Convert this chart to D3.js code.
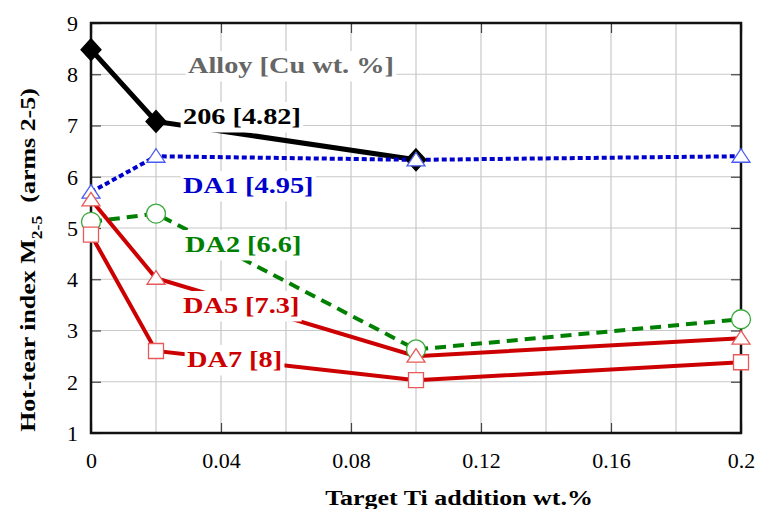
<!DOCTYPE html>
<html>
<head>
<meta charset="utf-8">
<script src="https://cdn.jsdelivr.net/npm/d3@7/dist/d3.min.js"></script>
<style>
html,body{margin:0;padding:0;background:#fff;}
svg{display:block;}
svg text{font-family:"Liberation Serif","Times New Roman",serif;}
</style>
</head>
<body>
<svg id="chart" width="760" height="509"></svg>
<script>
const xValues = [0, 0.02, 0.1, 0.2];
const s206 = [8.48, 7.08, 6.33];
const sDA1 = [5.7, 6.4, 6.33, 6.4];
const sDA2 = [5.12, 5.28, 2.63, 3.22];
const sDA5 = [5.55, 4.02, 2.5, 2.85];
const sDA7 = [4.87, 2.6, 2.03, 2.38];
const xTicks = [0, 0.04, 0.08, 0.12, 0.16, 0.2];
const xTickLabels = ["0", "0.04", "0.08", "0.12", "0.16", "0.2"];
const xGrid = [0, 0.02, 0.04, 0.06, 0.08, 0.1, 0.12, 0.14, 0.16, 0.18, 0.2];
const yTicks = [1, 2, 3, 4, 5, 6, 7, 8, 9];

const series = [
  {name: "206 [4.82]", values: s206, color: "#000000", width: 5, dash: null, marker: "diamond", mstroke: "#000", mfill: "#000", label: [183, 124]},
  {name: "DA1 [4.95]", values: sDA1, color: "#0000cc", width: 4, dash: "5,3", marker: "triangle", mstroke: "#4a5cf0", mfill: "#fff", label: [183, 193]},
  {name: "DA2 [6.6]", values: sDA2, color: "#008000", width: 4, dash: "11,7", marker: "circle", mstroke: "#3aa83a", mfill: "#fff", label: [185, 252]},
  {name: "DA5 [7.3]", values: sDA5, color: "#cc0000", width: 4, dash: null, marker: "triangle", mstroke: "#e85a5a", mfill: "#fff", label: [183, 313]},
  {name: "DA7 [8]", values: sDA7, color: "#cc0000", width: 4, dash: null, marker: "square", mstroke: "#e85a5a", mfill: "#fff", label: [187, 367]}
];

const svg = d3.select("#chart");
const L = 91, R = 741, T = 23, B = 433;
const x = d3.scaleLinear().domain([0, 0.2]).range([L, R]);
const y = d3.scaleLinear().domain([1, 9]).range([B, T]);
const SX = 1.18;

// grid
svg.append("g").selectAll("line").data(xGrid).join("line")
  .attr("x1", d => x(d)).attr("x2", d => x(d)).attr("y1", T).attr("y2", B)
  .attr("stroke", "#c8c8c8").attr("stroke-width", 1.2);
svg.append("g").selectAll("line").data(yTicks).join("line")
  .attr("x1", L).attr("x2", R).attr("y1", d => y(d)).attr("y2", d => y(d))
  .attr("stroke", "#c8c8c8").attr("stroke-width", 1.2);

// axes with inward ticks
const ax = (g, a) => g.call(a).call(s => s.select(".domain").remove());
const yL = svg.append("g").attr("transform", `translate(${L},0)`)
  .call(g => ax(g, d3.axisLeft(y).tickValues(yTicks).tickSize(-10).tickPadding(13).tickFormat(d3.format("d"))));
svg.append("g").attr("transform", `translate(${R},0)`)
  .call(g => ax(g, d3.axisRight(y).tickValues(yTicks).tickSize(-10).tickFormat("")));
const xB = svg.append("g").attr("transform", `translate(0,${B})`)
  .call(g => ax(g, d3.axisBottom(x).tickValues(xTicks).tickSize(-10).tickPadding(19).tickFormat((d, i) => xTickLabels[i])));
svg.append("g").attr("transform", `translate(0,${T})`)
  .call(g => ax(g, d3.axisTop(x).tickValues(xTicks).tickSize(-10).tickFormat("")));
svg.selectAll("g").attr("font-family", null);
svg.selectAll(".tick line").attr("stroke", "#444").attr("stroke-width", 1.2);
svg.selectAll(".tick text").style("font-family", "'Liberation Serif', serif").style("font-size", "22px").attr("fill", "#000");
yL.selectAll(".tick text").attr("dy", "0.34em");

// frame
svg.append("rect").attr("x", L).attr("y", T).attr("width", R - L).attr("height", B - T)
  .attr("fill", "none").attr("stroke", "#111").attr("stroke-width", 2.5);

const line = d3.line().x((d, i) => x(xValues[i])).y(d => y(d));

// lines
const lineG = svg.append("g");
series.forEach(s => {
  lineG.append("path").datum(s.values).attr("d", line)
    .attr("fill", "none").attr("stroke", s.color).attr("stroke-width", s.width)
    .attr("stroke-dasharray", s.dash).attr("stroke-linejoin", "miter");
});

// labels with white boxes
const labG = svg.append("g");
function addLabel(text, px, py, color) {
  const g = labG.append("g").attr("transform", `translate(${px},${py}) scale(${SX},1)`);
  const rect = g.append("rect").attr("fill", "#fff");
  const t = g.append("text").attr("x", 0).attr("y", 0).text(text)
    .style("font-family", "'Liberation Serif', serif").style("font-weight", "bold")
    .style("font-size", "24px").attr("fill", color);
  const bb = t.node().getBBox();
  rect.attr("x", bb.x - 2).attr("y", bb.y - 1).attr("width", bb.width + 4).attr("height", bb.height + 4);
}
addLabel("Alloy [Cu wt. %]", 188, 73, "#666666");
series.forEach(s => addLabel(s.name, s.label[0], s.label[1], s.color));

// markers
const mG = svg.append("g");
const triPath = "M0,-7.5L9,6L-9,6Z";
const sqPath = "M-7.5,-7.5H7.5V7.5H-7.5Z";
const diaPath = "M0,-11L10,0L0,11L-10,0Z";
series.forEach(s => {
  s.values.forEach((v, i) => {
    const cx = x(xValues[i]), cy = y(v);
    if (s.marker === "circle") {
      mG.append("circle").attr("cx", cx).attr("cy", cy).attr("r", 9.5)
        .attr("fill", s.mfill).attr("stroke", s.mstroke).attr("stroke-width", 1.3);
    } else {
      const p = s.marker === "diamond" ? diaPath : s.marker === "triangle" ? triPath : sqPath;
      mG.append("path").attr("d", p).attr("transform", `translate(${cx},${cy})`)
        .attr("fill", s.mfill).attr("stroke", s.mstroke).attr("stroke-width", 1.3);
    }
  });
});

// axis titles
svg.append("text").attr("transform", `translate(459,505) scale(${SX},1)`).attr("text-anchor", "middle")
  .style("font-weight", "bold").style("font-size", "22px")
  .text("Target Ti addition wt.%");
const yt = svg.append("text").attr("transform", `translate(35,260) rotate(-90) scale(${SX},1)`)
  .attr("text-anchor", "middle")
  .style("font-weight", "bold").style("font-size", "22px");
yt.append("tspan").text("Hot-tear index M");
yt.append("tspan").attr("dy", 7).style("font-size", "15px").text("2-5");
yt.append("tspan").attr("dy", -7).text("\u00a0\u00a0(arms 2-5)");
</script>
</body>
</html>
